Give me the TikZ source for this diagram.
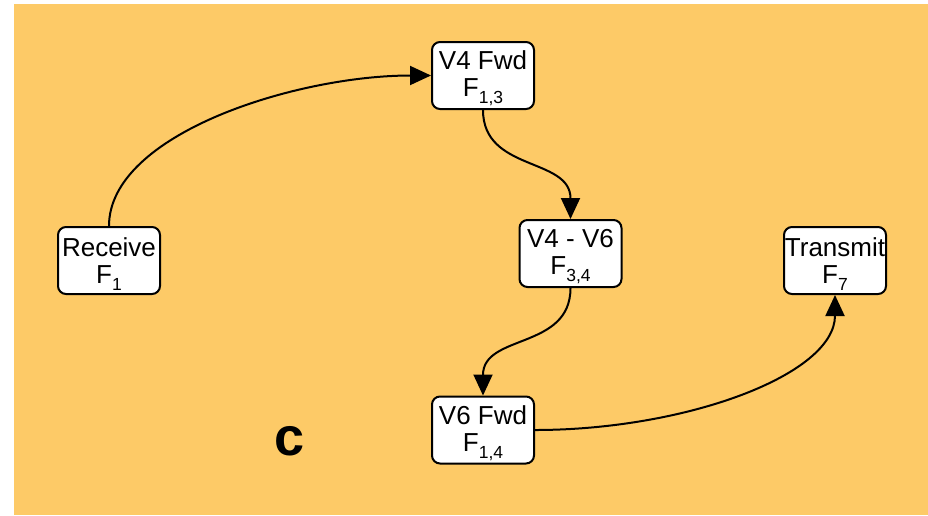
\documentclass[tikz,border=0pt]{standalone}
\usepackage{fontspec}
\setmainfont{Liberation Sans}
\usetikzlibrary{arrows.meta}
\definecolor{panel}{HTML}{FDCA67}
% lowered index set beside the function letter
\newcommand{\fidx}[1]{\raisebox{-7pt}{\fontsize{17.5}{17.5}\selectfont #1}}
% head room above the first line of a box
\newcommand{\toproom}{\rule{0pt}{25pt}}
\tikzset{
  fn/.style={draw=black, line width=2pt, fill=white, rounded corners=8pt,
    minimum width=102pt, minimum height=67pt, inner sep=0pt, align=center,
    font=\fontsize{26}{27}\selectfont},
  flow/.style={line width=2pt, -{Triangle[length=21pt,width=19pt]}}
}
\begin{document}
\begin{tikzpicture}[x=1pt,y=-1pt]
\useasboundingbox (0,0) rectangle (928,515);
\fill[panel] (14,4) rectangle (928,515);

\node[fn] (rx)   at (109,260.5) {\toproom Receive\\F\fidx{1}};
\node[fn] (v4)   at (483,75.5)  {\toproom V4 Fwd\\F\fidx{1,3}};
\node[fn] (conv) at (570.5,253.5) {\toproom V4 - V6\\F\fidx{3,4}};
\node[fn] (v6)   at (483,430)   {\toproom V6 Fwd\\F\fidx{1,4}};
\node[fn] (tx)   at (835,260.5) {\toproom Transmit\\F\fidx{7}};

\node[font=\fontsize{54}{54}\bfseries\selectfont] (lbl) at (290,441) {c};

\draw[flow] (rx.north) .. controls +(0,-92) and +(-135,0) .. (v4.west);
\draw[flow] (v4.south) .. controls +(0,62) and +(0,-62) .. (conv.north);
\draw[flow] (conv.south) .. controls +(0,62) and +(0,-62) .. (v6.north);
\draw[flow] (v6.east) .. controls +(150,0) and +(0,80) .. (tx.south);
\end{tikzpicture}
\end{document}
